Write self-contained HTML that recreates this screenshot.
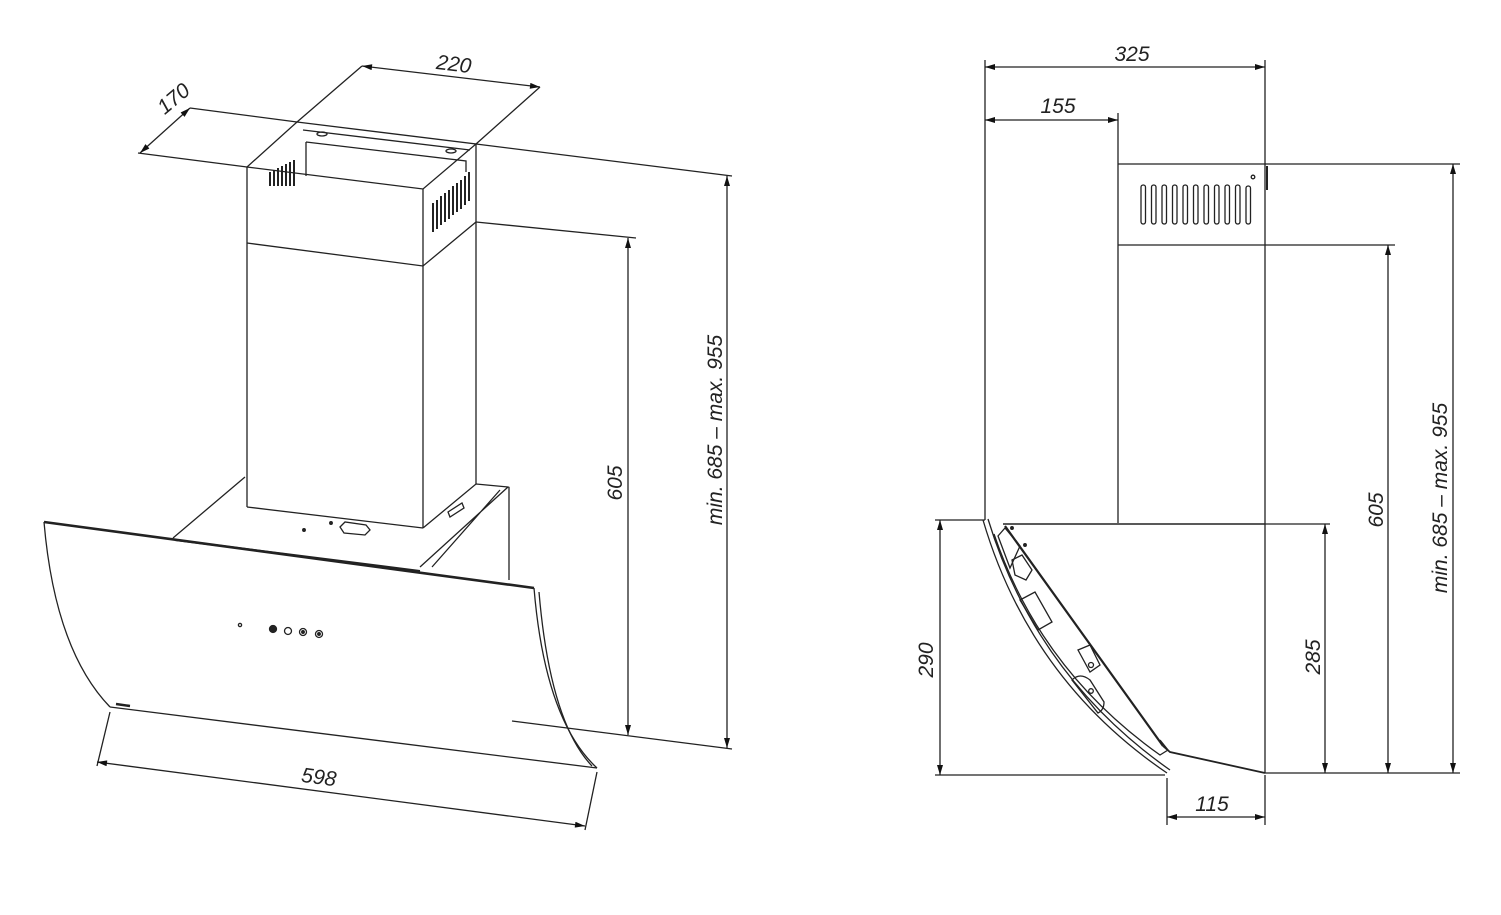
<!DOCTYPE html>
<html><head><meta charset="utf-8"><style>
html,body{margin:0;padding:0;background:#fff;}
svg{display:block;}
text{font-family:"Liberation Sans",sans-serif;font-style:italic;font-size:21px;fill:#222;}
</style></head><body>
<svg width="1501" height="915" viewBox="0 0 1501 915" xmlns="http://www.w3.org/2000/svg">
<defs>
<marker id="a" viewBox="0 0 10 6" refX="10" refY="3" markerWidth="12" markerHeight="6" orient="auto-start-reverse" markerUnits="userSpaceOnUse"><path d="M0,0 L10,3 L0,6 z" fill="#111"/></marker>
</defs>
<g stroke="#222" stroke-width="1.3" fill="none">
<!-- LEFT VIEW -->
<!-- chimney top box -->
<path d="M297,122 L476,144 L423,189 L247,167 Z"/>
<path d="M303,130 L470,150 M306,142 L466,161 L466,172 M306,142 L306,176"/>
<ellipse cx="322" cy="134" rx="5" ry="2"/><ellipse cx="451" cy="151" rx="5" ry="2"/>
<path d="M247,167 L247,507 M423,189 L423,528 M476,144 L476,484"/>
<path d="M247,243 L423,266 L476,222"/>
<path d="M247,507 L423,528"/>
<g stroke-width="2">
<path d="M433,203 L433,232 M437,200 L437,229 M441,196 L441,225 M445,193 L445,222 M449,190 L449,219 M453,186 L453,215 M457,183 L457,212 M461,180 L461,209 M465,176 L465,205 M469,172 L469,201"/>
<path d="M270,172 L270,186 M274,170 L274,186 M278,168 L278,186 M282,166 L282,186 M286,164 L286,186 M290,162 L290,186 M294,160 L294,186"/>
</g>
<!-- plate -->
<path d="M173,538 L245,477 M423,528 L476,484 L508,487 L420,567 M476,484 L508,487 M500,490 L432,567 M509,487 L509,580"/>
<path d="M448,512 L462,503 L464,508 L450,517 Z"/>
<path d="M340,527 L345,522 L366,525 L370,530 L365,535 L344,533 Z"/>
<circle cx="304" cy="530" r="1.3" fill="#222"/><circle cx="331" cy="523" r="1.3" fill="#222"/>
<!-- glass panel -->
<path d="M44,522 L534,588" stroke-width="2.6"/>
<path d="M175,540 L420,571" stroke-width="2"/>
<path d="M44,522 Q55,650 110,707"/>
<path d="M534,588 Q545,720 597,768"/>
<path d="M539,592 Q550,722 592,766"/>
<path d="M110,707 L597,768"/>
<path d="M116,704 L130,706" stroke-width="2.5"/>
<circle cx="240" cy="625" r="1.6"/>
<circle cx="273" cy="629" r="3.5" fill="#222"/>
<circle cx="288" cy="631" r="3.5"/><circle cx="303" cy="632" r="3.5"/><circle cx="319" cy="634" r="3.5"/>
<circle cx="303" cy="632" r="1.3" fill="#222"/><circle cx="319" cy="634" r="1.3" fill="#222"/>
<!-- left dims -->
<path d="M297,122 L362,66 M476,144 L540,87"/>
<path d="M362,66 L540,87" marker-start="url(#a)" marker-end="url(#a)"/>
<path d="M297,122 L190,108 M247,167 L138,153"/>
<path d="M140,153 L190,108" marker-start="url(#a)" marker-end="url(#a)"/>
<path d="M476,144 L732,176 M476,222 L636,238 M512,721 L732,749"/>
<path d="M628,238 L628,735" marker-start="url(#a)" marker-end="url(#a)"/>
<path d="M727,176 L727,748" marker-start="url(#a)" marker-end="url(#a)"/>
<path d="M110,712 L97,766 M597,772 L585,830"/>
<path d="M97,762 L585,826" marker-start="url(#a)" marker-end="url(#a)"/>

<!-- RIGHT VIEW -->
<path d="M985,60 L985,520 M1265,60 L1265,164 M1118,113 L1118,523"/>
<path d="M985,67 L1265,67" marker-start="url(#a)" marker-end="url(#a)"/>
<path d="M985,120 L1118,120" marker-start="url(#a)" marker-end="url(#a)"/>
<path d="M1118,164 L1265,164 L1265,773 M1118,245 L1265,245"/>
<path d="M1267,166 L1267,190" stroke-width="2"/>
<circle cx="1253" cy="177" r="1.8"/>
<g>
<rect x="1141" y="185" width="4.5" height="39" rx="2.2"/><rect x="1151.5" y="185" width="4.5" height="39" rx="2.2"/><rect x="1162" y="185" width="4.5" height="39" rx="2.2"/><rect x="1172.5" y="185" width="4.5" height="39" rx="2.2"/><rect x="1183" y="185" width="4.5" height="39" rx="2.2"/><rect x="1193.5" y="185" width="4.5" height="39" rx="2.2"/><rect x="1204" y="185" width="4.5" height="39" rx="2.2"/><rect x="1214.5" y="185" width="4.5" height="39" rx="2.2"/><rect x="1225" y="185" width="4.5" height="39" rx="2.2"/><rect x="1235.5" y="185" width="4.5" height="39" rx="2.2"/><rect x="1246" y="186" width="4.5" height="38" rx="2.2"/>
</g>
<path d="M1265,164 L1460,164 M1265,245 L1395,245 M1265,524 L1330,524 M1265,773 L1460,773"/>
<path d="M1453,164 L1453,773" marker-start="url(#a)" marker-end="url(#a)"/>
<path d="M1388,245 L1388,773" marker-start="url(#a)" marker-end="url(#a)"/>
<path d="M1325,524 L1325,773" marker-start="url(#a)" marker-end="url(#a)"/>
<!-- hood side -->
<path d="M1003,524 L1265,524" stroke-width="1.6"/>
<path d="M1005,526 L1163,746" stroke-width="2.2"/>
<path d="M1163,746 L1170,752 L1265,773" stroke-width="1.8"/>
<path d="M983,520 Q1030,680 1167,773"/>
<path d="M988,519 Q1036,676 1170,770"/>
<path d="M994,534 Q1040,670 1160,755 L1168,750 L1160,740"/>
<path d="M998,536 L1005,528 L1020,546 L1010,568 Z"/>
<path d="M1012,560 L1022,555 L1032,570 L1026,580 L1015,575 Z"/>
<path d="M1020,600 L1035,592 L1052,622 L1038,630 Z"/>
<path d="M1078,650 L1090,645 L1100,665 L1090,672 Z"/>
<circle cx="1091" cy="665" r="2.5"/>
<path d="M1072,680 Q1080,672 1090,680 L1104,702 Q1104,710 1098,713 Z"/>
<circle cx="1091" cy="691" r="2.3"/>
<circle cx="1012" cy="528" r="1.3" fill="#222"/><circle cx="1025" cy="545" r="1.3" fill="#222"/>
<path d="M935,520 L985,520 M935,775 L1165,775"/>
<path d="M940,520 L940,775" marker-start="url(#a)" marker-end="url(#a)"/>
<path d="M1167,778 L1167,825 M1265,775 L1265,825"/>
<path d="M1167,817 L1265,817" marker-start="url(#a)" marker-end="url(#a)"/>
</g>
<!-- labels -->
<text x="453" y="71" text-anchor="middle" transform="rotate(7 453 71)">220</text>
<text x="178" y="104" text-anchor="middle" transform="rotate(-40 178 104)">170</text>
<text x="318" y="784" text-anchor="middle" transform="rotate(7.5 318 784)">598</text>
<text x="622" y="483" text-anchor="middle" transform="rotate(-90 622 483)">605</text>
<text x="722" y="430" text-anchor="middle" transform="rotate(-90 722 430)">min. 685 – max. 955</text>
<text x="1132" y="61" text-anchor="middle">325</text>
<text x="1058" y="113" text-anchor="middle">155</text>
<text x="1447" y="498" text-anchor="middle" transform="rotate(-90 1447 498)">min. 685 – max. 955</text>
<text x="1383" y="510" text-anchor="middle" transform="rotate(-90 1383 510)">605</text>
<text x="1320" y="657" text-anchor="middle" transform="rotate(-90 1320 657)">285</text>
<text x="933" y="660" text-anchor="middle" transform="rotate(-90 933 660)">290</text>
<text x="1212" y="811" text-anchor="middle">115</text>
</svg>
</body></html>
